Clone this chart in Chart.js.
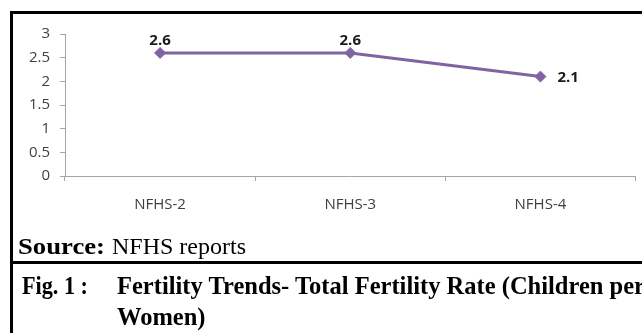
<!DOCTYPE html>
<html><head><meta charset="utf-8">
<script src="https://cdn.jsdelivr.net/npm/chart.js@4/dist/chart.umd.min.js"></script>
<style>
html,body{margin:0;padding:0;background:#fff;}
#wrap{position:relative;width:642px;height:333px;overflow:hidden;background:#fff;}
canvas{position:absolute;left:0;top:0;}
.bl{position:absolute;background:#000;}
.t{position:absolute;font-family:"Liberation Serif","Times New Roman",serif;white-space:nowrap;color:#000;transform-origin:0 0;}
</style></head><body>
<div id="wrap">
<canvas id="c" width="642" height="333"></canvas>
<div class="bl" style="left:10px;top:11px;width:632px;height:3px"></div>
<div class="bl" style="left:10px;top:11px;width:3px;height:322px"></div>
<div class="bl" style="left:10px;top:261px;width:632px;height:3px"></div>
<div class="t" id="src1" style="left:18px;top:234px;font-size:24px;line-height:24px;font-weight:bold">Source:</div>
<div class="t" id="src2" style="left:112px;top:234px;font-size:24px;line-height:24px">NFHS reports</div>
<div class="t" id="fig1" style="left:22px;top:273px;font-size:25px;line-height:25px;font-weight:bold">Fig. 1 :</div>
<div class="t" id="fig2" style="left:117px;top:273px;font-size:25px;line-height:25px;font-weight:bold">Fertility Trends- Total Fertility Rate (Children per</div>
<div class="t" id="fig3" style="left:117px;top:304px;font-size:25px;line-height:25px;font-weight:bold">Women)</div>
</div>
<script>
const categories = ['NFHS-2', 'NFHS-3', 'NFHS-4'];
const tfrValues = [2.6, 2.6, 2.1];
const yTickValues = [0, 0.5, 1, 1.5, 2, 2.5, 3];
const labelPlacement = ['top', 'top', 'right'];

function fit(id, w) {
  const el = document.getElementById(id);
  const r = el.getBoundingClientRect().width;
  const k = w / r;
  el.style.transform = 'scaleX(' + k + ')';
  return k;
}
fit('src1', 87);
fit('fig1', 66);
const kFig = fit('fig2', 528);
document.getElementById('fig3').style.transform = 'scaleX(' + kFig + ')';

const purple = '#8064A2';
const axisGray = '#a6a6a6';

const valueLabels = {
  id: 'valueLabels',
  afterDatasetsDraw(chart) {
    const ctx = chart.ctx;
    const meta = chart.getDatasetMeta(0);
    ctx.save();
    ctx.font = 'bold 15px "Open Sans"';
    ctx.fillStyle = '#1a1a1a';
    ctx.textBaseline = 'middle';
    meta.data.forEach((pt, i) => {
      const txt = String(tfrValues[i]);
      if (labelPlacement[i] === 'right') {
        ctx.textAlign = 'left';
        ctx.fillText(txt, pt.x + 17, pt.y + 1);
      } else {
        ctx.textAlign = 'center';
        ctx.fillText(txt, pt.x, pt.y - 12);
      }
    });
    ctx.restore();
  }
};

new Chart(document.getElementById('c'), {
  type: 'line',
  data: {
    labels: categories,
    datasets: [{
      data: tfrValues,
      borderColor: purple,
      backgroundColor: purple,
      borderWidth: 3,
      pointStyle: 'rectRot',
      pointRadius: 5.5,
      pointBorderWidth: 1,
      pointBackgroundColor: purple,
      pointBorderColor: purple,
      tension: 0,
      fill: false
    }]
  },
  options: {
    responsive: false,
    devicePixelRatio: 1,
    animation: false,
    layout: { padding: { top: 34, left: 0, right: 3, bottom: 0 } },
    plugins: { legend: { display: false }, tooltip: { enabled: false } },
    scales: {
      x: {
        offset: true,
        afterFit(s) { s.height = 333 - 176; },
        grid: { display: true, drawOnChartArea: false, drawTicks: true, tickLength: 5, color: axisGray, offset: true },
        border: { display: true, color: axisGray, width: 1 },
        ticks: { font: { family: 'Open Sans', size: 15 }, color: '#404040', padding: 15, maxRotation: 0 }
      },
      y: {
        min: 0, max: 3,
        afterFit(s) { s.width = 65; },
        afterBuildTicks(s) { s.ticks = yTickValues.map(v => ({ value: v })); },
        grid: { display: true, drawOnChartArea: false, drawTicks: true, tickLength: 5, color: axisGray },
        border: { display: true, color: axisGray, width: 1 },
        ticks: { font: { family: 'Open Sans', size: 15 }, color: '#404040', padding: 10, callback: v => String(v) }
      }
    }
  },
  plugins: [valueLabels]
});
</script>
</body></html>
